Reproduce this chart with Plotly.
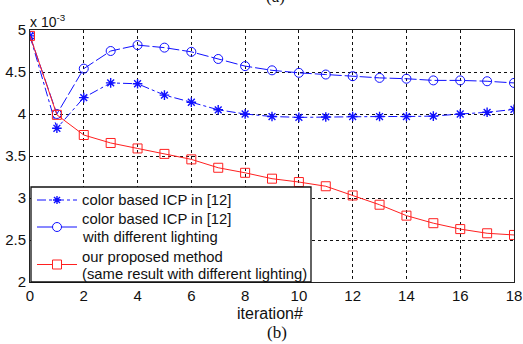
import plotly.graph_objects as go

iterations = list(range(19))
star_vals = [4.93, 3.83, 4.195, 4.37, 4.36, 4.225, 4.14, 4.05, 4.00, 3.97, 3.96,
             3.965, 3.97, 3.97, 3.97, 3.975, 4.00, 4.02, 4.055]
circle_vals = [4.93, 4.00, 4.54, 4.75, 4.82, 4.79, 4.74, 4.655, 4.57, 4.52, 4.49,
               4.47, 4.45, 4.43, 4.42, 4.40, 4.40, 4.39, 4.37]
square_vals = [4.93, 3.99, 3.75, 3.655, 3.59, 3.525, 3.46, 3.36, 3.30, 3.23, 3.19,
               3.14, 3.03, 2.92, 2.79, 2.70, 2.63, 2.58, 2.56]
names = ["color based ICP in [12]",
         "color based ICP in [12]<br>with different lighting",
         "our proposed method<br>(same result with different lighting)"]
x_ticks = list(range(0, 19, 2))
y_ticks = [2, 2.5, 3, 3.5, 4, 4.5, 5]

blue = "#1010ff"
red = "#ff2020"
FONT = "Liberation Sans, Arial"
SERIF = "Liberation Serif, Times New Roman"

W, H = 523, 344
ML, MR, MT, MB = 30, 9, 30, 62
PW, PH = W - ML - MR, H - MT - MB


def px(x):
    return (x - ML) / PW


def py(y):
    return (H - MB - y) / PH


fig = go.Figure()
fig.add_trace(go.Scatter(x=iterations, y=star_vals, name=names[0], mode="lines+markers",
                         line=dict(color=blue, width=1, dash="dashdot"),
                         marker=dict(symbol="asterisk-open", size=8, color=blue,
                                     line=dict(color=blue, width=1.4))))
fig.add_trace(go.Scatter(x=iterations, y=circle_vals, name=names[1], mode="lines+markers",
                         line=dict(color=blue, width=1, dash="12px,3px"),
                         marker=dict(symbol="circle-open", size=9, color=blue,
                                     line=dict(color=blue, width=1))))
fig.add_trace(go.Scatter(x=iterations, y=square_vals, name=names[2], mode="lines+markers",
                         line=dict(color=red, width=1),
                         marker=dict(symbol="square-open", size=9, color=red,
                                     line=dict(color=red, width=1))))

axis_common = dict(showline=True, mirror=True, linecolor="#222", linewidth=1,
                   showgrid=True, gridcolor="#111", griddash="3px,3px", gridwidth=1,
                   zeroline=False, ticks="", automargin=False,
                   tickfont=dict(family=FONT, size=15, color="#111"))
fig.update_xaxes(range=[0, 18], tickvals=x_ticks, **axis_common)
fig.update_yaxes(range=[2, 5], tickvals=y_ticks, ticktext=[str(v) for v in y_ticks], **axis_common)

# ---- legend box (drawn manually to match the compact original layout) ----
shapes = [dict(type="rect", xref="paper", yref="paper", x0=px(31), x1=px(311), y0=py(282), y1=py(187),
               fillcolor="white", line=dict(color="#111", width=1.3), layer="above")]
key_rows = [200, 227, 264.5]
key_x0, key_x1, key_mid = 37, 77, 57
key_styles = [dict(color=blue, dash="dashdot"), dict(color=blue, dash="solid"), dict(color=red, dash="solid")]
for ky, st in zip(key_rows, key_styles):
    shapes.append(dict(type="line", xref="paper", yref="paper", x0=px(key_x0), x1=px(key_x1),
                       y0=py(ky), y1=py(ky), line=dict(color=st["color"], width=1, dash=st["dash"]),
                       layer="above"))
# asterisk key
r = 4
ast_path = (f"M{px(key_mid - r)},{py(key_rows[0])} L{px(key_mid + r)},{py(key_rows[0])} "
            f"M{px(key_mid)},{py(key_rows[0] - r)} L{px(key_mid)},{py(key_rows[0] + r)} "
            f"M{px(key_mid - 3)},{py(key_rows[0] - 3)} L{px(key_mid + 3)},{py(key_rows[0] + 3)} "
            f"M{px(key_mid - 3)},{py(key_rows[0] + 3)} L{px(key_mid + 3)},{py(key_rows[0] - 3)}")
shapes.append(dict(type="path", xref="paper", yref="paper", path=ast_path,
                   line=dict(color=blue, width=1.4), layer="above"))
# circle key
shapes.append(dict(type="circle", xref="paper", yref="paper", x0=px(key_mid - 4.5), x1=px(key_mid + 4.5),
                   y0=py(key_rows[1] + 4.5), y1=py(key_rows[1] - 4.5), fillcolor="white",
                   line=dict(color=blue, width=1), layer="above"))
# square key
shapes.append(dict(type="rect", xref="paper", yref="paper", x0=px(key_mid - 4.5), x1=px(key_mid + 4.5),
                   y0=py(key_rows[2] + 4.5), y1=py(key_rows[2] - 4.5), fillcolor="white",
                   line=dict(color=red, width=1), layer="above"))

legend_lines = [(names[0], 200)]
for (nm, rows) in [(names[1], (219, 237)), (names[2], (256.5, 274))]:
    for part, yy in zip(nm.split("<br>"), rows):
        legend_lines.append((part, yy))

annotations = [
    dict(text="x 10<sup>-3</sup>", xref="paper", yref="paper", x=0, y=1, xanchor="left",
         yanchor="bottom", showarrow=False, font=dict(size=14), yshift=-2, xshift=-2),
    dict(text="iteration#", xref="paper", yref="paper", x=0.5, y=0, xanchor="center",
         yanchor="middle", showarrow=False, yshift=-31, xshift=-2,
         font=dict(family=FONT, size=16, color="#111")),
    dict(text="(b)", xref="paper", yref="paper", x=0.5, y=0, xanchor="center", yanchor="middle",
         showarrow=False, yshift=-50, xshift=5,
         font=dict(family=SERIF, size=17, color="#111")),
    dict(text="(a)", xref="paper", yref="paper", x=0.5, y=1, xanchor="center", yanchor="middle",
         showarrow=False, yshift=34, xshift=3,
         font=dict(family=SERIF, size=17, color="#111")),
]
for txt, yy in legend_lines:
    annotations.append(dict(text=txt, xref="paper", yref="paper", x=px(80), y=py(yy),
                            xanchor="left", yanchor="middle", showarrow=False,
                            font=dict(family=FONT, size=14.8, color="#111")))

fig.update_layout(
    width=W, height=H,
    margin=dict(l=ML, r=MR, t=MT, b=MB),
    paper_bgcolor="white", plot_bgcolor="white",
    font=dict(family=FONT, size=14, color="#111"),
    showlegend=False,
    shapes=shapes,
    annotations=annotations,
)
fig.write_html("out.html", config={"displayModeBar": False},
               post_script="document.body.style.margin='0';document.body.style.overflow='hidden';")
